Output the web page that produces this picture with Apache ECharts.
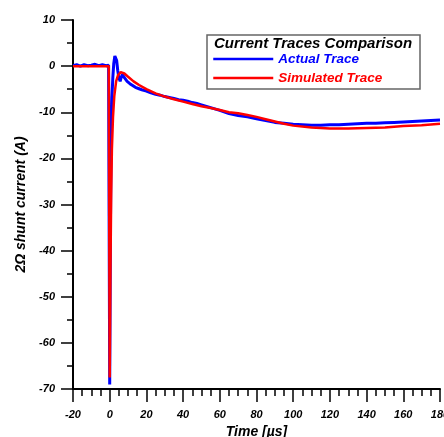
<!DOCTYPE html>
<html>
<head>
<meta charset="utf-8">
<script src="https://cdn.jsdelivr.net/npm/echarts@6/dist/echarts.min.js"></script>
<style>
  html, body { margin: 0; padding: 0; background: #fff; }
  #main { width: 444px; height: 437px; }
</style>
</head>
<body>
<div id="main"></div>
<script>
// 数据
var xTicks = [-20, 0, 20, 40, 60, 80, 100, 120, 140, 160, 180];
var yTicks = [10, 0, -10, -20, -30, -40, -50, -60, -70];

var actualTime = [-20, -18, -16, -14, -12, -10, -8, -6, -4, -2, -0.6, 0, 0.4, 0.8, 1.2, 1.7, 2.2, 2.8, 3.3, 3.8, 4.4, 5, 5.7, 6.3, 7, 7.8, 8.6, 9.5, 11, 12.5, 14, 16, 18, 20, 22.5, 25, 27.5, 30, 32.5, 35, 37.5, 40, 42.5, 45, 47.5, 50, 55, 60, 65, 70, 75, 80, 85, 90, 95, 100, 105, 110, 115, 120, 125, 130, 135, 140, 145, 150, 155, 160, 165, 170, 175, 180];
var actualCurrent = [0.1, 0.3, 0.0, 0.3, 0.1, 0.2, 0.4, 0.1, 0.3, 0.1, 0.2, -69, -35, -14, -7, -2.5, 0.5, 2.2, 2.6, 1.2, -1, -2.5, -3.3, -2.4, -1.8, -2.4, -2.8, -3.3, -3.8, -4.2, -4.6, -4.9, -5.2, -5.4, -5.8, -6.1, -6.3, -6.6, -6.8, -7.0, -7.3, -7.4, -7.6, -7.9, -8.1, -8.4, -9.0, -9.6, -10.3, -10.7, -11.0, -11.4, -11.8, -12.2, -12.4, -12.6, -12.7, -12.8, -12.8, -12.7, -12.7, -12.6, -12.5, -12.4, -12.4, -12.3, -12.2, -12.1, -12.0, -11.9, -11.8, -11.7];

var simTime = [-20, -0.5, 0, 0.4, 0.8, 1.2, 1.8, 2.5, 3.5, 4.5, 6, 7, 8, 10, 13, 16, 20, 25, 30, 35, 40, 45, 50, 55, 60, 65, 70, 75, 80, 85, 90, 95, 100, 110, 120, 130, 140, 150, 160, 170, 180];
var simCurrent = [0, 0, -67.5, -45, -28, -18, -11, -6.5, -3.3, -2, -1.3, -1.3, -1.6, -2.3, -3.3, -4.1, -5.0, -5.9, -6.6, -7.2, -7.7, -8.2, -8.7, -9.1, -9.5, -10.0, -10.2, -10.6, -11.0, -11.5, -12.0, -12.5, -12.9, -13.3, -13.5, -13.5, -13.4, -13.3, -13.0, -12.8, -12.5];

function pairs(xs, ys) {
    return xs.map(function (x, i) { return [x, ys[i]]; });
}

var font = 'Liberation Sans, Arial, sans-serif';
var myChart = echarts.init(document.getElementById('main'));

var option = {
    animation: false,
    backgroundColor: '#fff',
    grid: {
        left: 73,
        right: 4,
        top: 20,
        bottom: 48,
        containLabel: false,
        outerBoundsMode: 'none'
    },
    legend: {
        orient: 'vertical',
        left: 212,
        top: 52,
        itemWidth: 60,
        itemHeight: 14,
        itemGap: 5,
        padding: 0,
        itemStyle: { opacity: 0 },
        lineStyle: { width: 2.5 },
        data: [
            { name: 'Actual Trace', textStyle: { color: '#0000ff' } },
            { name: 'Simulated Trace', textStyle: { color: '#ff0000' } }
        ],
        textStyle: {
            fontFamily: font,
            fontSize: 13.5,
            fontWeight: 'bold',
            fontStyle: 'italic'
        }
    },
    graphic: [
        {
            type: 'rect',
            shape: { x: 207, y: 35, width: 213, height: 54 },
            style: { fill: '#fff', stroke: '#666', lineWidth: 1.5 },
            z: 0
        },
        {
            type: 'text',
            left: 214,
            top: 36,
            style: {
                text: 'Current Traces Comparison',
                fill: '#000',
                font: 'italic bold 15px ' + font
            },
            z: 1
        }
    ],
    xAxis: {
        type: 'value',
        min: -20,
        max: 180,
        interval: 20,
        name: 'Time [µs]',
        nameLocation: 'middle',
        nameGap: 35,
        nameTextStyle: {
            color: '#000',
            fontFamily: font,
            fontSize: 14,
            fontWeight: 'bold',
            fontStyle: 'italic'
        },
        axisLine: { onZero: false, lineStyle: { color: '#000', width: 2 } },
        axisTick: { show: true, length: 13, lineStyle: { color: '#000', width: 1.5 } },
        minorTick: { show: true, splitNumber: 4, length: 7, lineStyle: { color: '#000', width: 1.5 } },
        axisLabel: {
            margin: 20,
            color: '#000',
            fontFamily: font,
            fontSize: 11,
            fontWeight: 'bold',
            fontStyle: 'italic',
            showMaxLabel: true,
            showMinLabel: true
        },
        splitLine: { show: false }
    },
    yAxis: {
        type: 'value',
        min: -70,
        max: 10,
        interval: 10,
        name: '2Ω shunt current (A)',
        nameLocation: 'middle',
        nameGap: 42,
        nameTextStyle: {
            color: '#000',
            fontFamily: font,
            fontSize: 14,
            fontWeight: 'bold',
            fontStyle: 'italic'
        },
        axisLine: { show: true, onZero: false, lineStyle: { color: '#000', width: 2 } },
        axisTick: { show: true, length: 12, lineStyle: { color: '#000', width: 1.5 } },
        minorTick: { show: true, splitNumber: 2, length: 6, lineStyle: { color: '#000', width: 1.5 } },
        axisLabel: {
            margin: 18,
            color: '#000',
            fontFamily: font,
            fontSize: 11,
            fontWeight: 'bold',
            fontStyle: 'italic'
        },
        splitLine: { show: false }
    },
    series: [
        {
            name: 'Actual Trace',
            type: 'line',
            symbol: 'none',
            color: '#0000ff',
            lineStyle: { color: '#0000ff', width: 3 },
            data: pairs(actualTime, actualCurrent),
            z: 2
        },
        {
            name: 'Simulated Trace',
            type: 'line',
            symbol: 'none',
            color: '#ff0000',
            lineStyle: { color: '#ff0000', width: 2.5 },
            data: pairs(simTime, simCurrent),
            z: 3
        }
    ]
};

myChart.setOption(option);

window.onresize = function () {
    myChart.resize();
};
</script>
</body>
</html>
